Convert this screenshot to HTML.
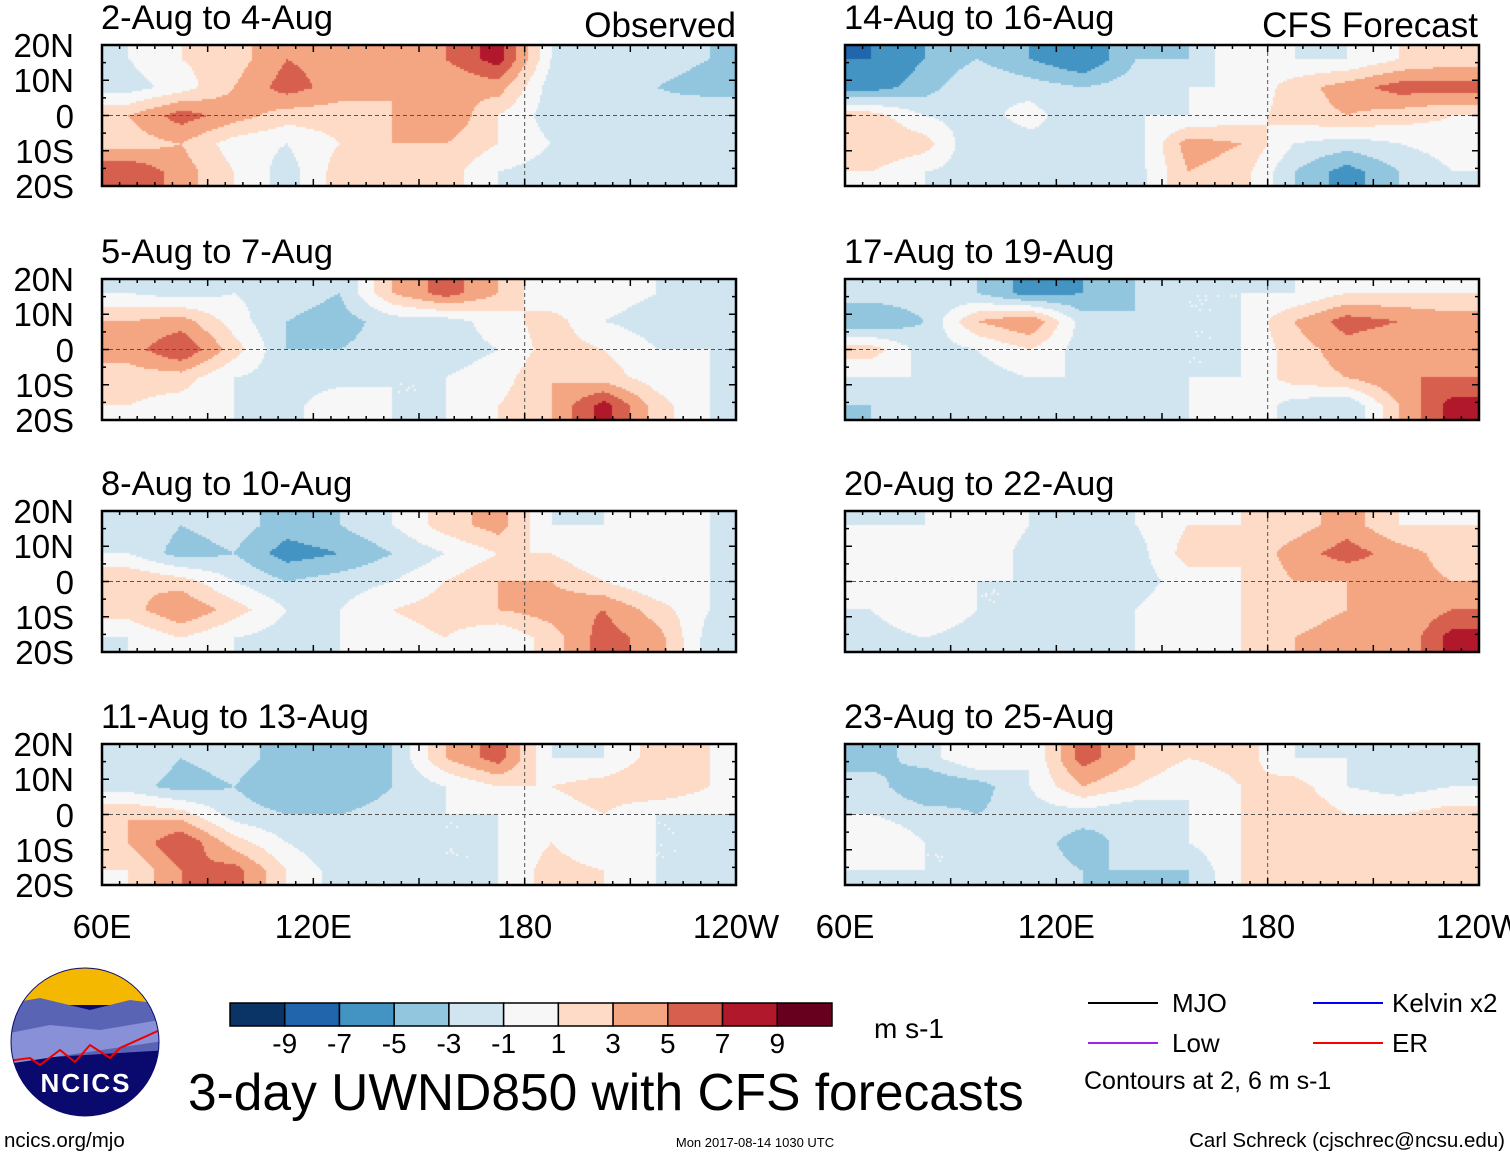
<!DOCTYPE html>
<html><head><meta charset="utf-8">
<style>
body{margin:0;width:1510px;height:1158px;background:#fff;position:relative;overflow:hidden;font-family:"Liberation Sans",sans-serif;color:#000}
.t{position:absolute;white-space:nowrap;line-height:1}
canvas{position:absolute}
</style></head><body>
<svg id="ov" width="1510" height="1158" style="position:absolute;left:0;top:0;z-index:2"></svg>
<div id="txt"></div>
<script>
// ---- data: 3-day mean 850hPa zonal wind anomaly (m/s), rows 20N->20S, cols 60E->120W ----
const panelTitles=["2-Aug to 4-Aug","5-Aug to 7-Aug","8-Aug to 10-Aug","11-Aug to 13-Aug","14-Aug to 16-Aug","17-Aug to 19-Aug","20-Aug to 22-Aug","23-Aug to 25-Aug"];
const p1=[[-1,1,2,5,4,3,5,8,-1,-2,-2,-3],[-2,0,3,6,4,3,3,4,-2,-2,-3,-4],[3,6,4,2,2,3,5,1,-2,-3,-2,-1],[2,3,0,-1,1,3,3,1,-1,-2,-1,-2],[7,4,1,-2,2,3,2,-1,-2,-3,-2,-1]];
const p2=[[-1,-2,-1,-2,-3,3,6,3,-1,0,-1,-2],[3,4,0,-3,-4,-2,-2,0,2,-1,-2,-1],[4,7,2,-3,-3,-2,-2,-1,2,1,-1,-1],[2,2,-1,-2,-2,-1,-1,0,3,2,0,-1],[1,0,-1,-2,1,-1,-1,1,3,8,2,-1]];
const p3=[[-1,-3,-2,-4,-3,-1,2,4,-1,-1,1,-1],[-1,-4,-3,-6,-5,-3,-1,1,1,-1,0,-1],[3,2,-1,-3,-2,-1,1,3,3,1,-1,-1],[2,5,2,-1,-1,1,2,3,4,5,2,-1],[-1,1,-1,-2,-1,0,1,-1,2,6,4,-2]];
const p4=[[-1,-3,-2,-4,-5,-3,3,6,-1,-1,2,1],[-2,-4,-3,-5,-5,-3,-1,1,1,2,3,1],[3,2,-2,-3,-3,-2,-1,-1,0,1,-1,-1],[3,7,2,-1,-3,-2,-1,-1,1,-1,-1,-1],[1,5,6,1,-2,-2,-1,-1,2,1,-1,-1]];
const p5=[[-7,-5,-3,-5,-7,-3,-3,1,-1,-1,1,2],[-6,-4,-1,-2,-3,-2,-1,-1,2,4,6,6],[2,-1,-2,0,-3,-1,-1,0,2,3,2,1],[3,2,-3,-2,-1,-2,4,3,-1,-2,-1,0],[1,-1,-2,-1,-2,-2,3,2,-3,-6,-3,-1]];
const p6=[[-2,-2,-3,-6,-5,-3,-1,-1,-1,1,1,1],[-5,-3,3,5,-2,-3,-1,-1,3,6,5,4],[2,-2,-1,1,-2,-2,-1,-1,2,4,3,3],[-1,-1,-2,-1,-1,-2,-1,-1,2,3,5,5],[-3,-2,-2,-3,-1,-2,-1,1,-2,-3,3,8]];
const p7=[[-1,-1,1,-1,-1,-1,1,1,2,4,1,1],[1,-1,1,-2,-2,-2,2,1,4,6,4,2],[1,1,-1,-1,-2,-2,0,1,3,3,4,3],[-1,1,-1,-1,-2,-1,1,1,2,3,3,5],[-2,-1,-2,-2,-2,-1,1,1,3,4,3,8]];
const p8=[[-4,-2,1,-1,6,3,1,2,-1,-1,-1,-2],[-2,-5,-4,-1,3,1,-1,1,2,-1,-2,-1],[-1,-2,-3,-2,-2,-3,-1,1,3,1,1,2],[1,-1,-1,-2,-4,-2,-1,1,3,2,2,3],[-1,-1,-1,-2,-3,-3,-3,1,3,1,2,3]];
const panels=[p1,p2,p3,p4,p5,p6,p7,p8];
const levels=[-9,-7,-5,-3,-1,1,3,5,7,9];
const colorbarLabels=["-9","-7","-5","-3","-1","1","3","5","7","9"];
const latLabels=["20N","10N","0","10S","20S"];
const lonLabels=["60E","120E","180","120W"];
const colors=["#0a3366","#2166ac","#4393c3","#92c5de","#d1e5f0","#f7f7f7","#fddbc7","#f4a582","#d6604d","#b2182b","#67001f"];

const NS="http://www.w3.org/2000/svg";
const ov=document.getElementById('ov');
const txt=document.getElementById('txt');
function binColor(v){let i=0;while(i<levels.length&&v>levels[i])i++;return colors[i];}
function sv(tag,a,parent){const e=document.createElementNS(NS,tag);for(const k in a)e.setAttribute(k,a[k]);(parent||ov).appendChild(e);return e;}
function label(s,x,y,size,anchor){const d=document.createElement('div');d.className='t';d.textContent=s;d.style.fontSize=size+'px';d.style.top=y+'px';
 if(anchor==='r'){d.style.right=(1510-x)+'px';}else if(anchor==='c'){d.style.left=x+'px';d.style.transform='translateX(-50%)';}else d.style.left=x+'px';
 txt.appendChild(d);return d;}

const PX=[102,845],PW=634,PY=[45,279,511,744],PH=141;
panels.forEach((grid,pi)=>{
 const col=pi<4?0:1,row=pi%4;const x0=PX[col],y0=PY[row];
 const rows=grid.length,cols=grid[0].length;
 const cv=document.createElement('canvas');cv.width=PW;cv.height=PH;cv.style.left=x0+'px';cv.style.top=y0+'px';
 
 
 document.body.appendChild(cv);const c=cv.getContext('2d');
 const s=2;
 for(let py=0;py<PH;py+=s)for(let px=0;px<PW;px+=s){
  let gx=(px+1)/PW*cols-0.5,gy=(py+1)/PH*rows-0.5;gx=Math.max(0,Math.min(cols-1,gx));gy=Math.max(0,Math.min(rows-1,gy));
  const ix=Math.min(cols-2,Math.floor(gx)),iy=Math.min(rows-2,Math.floor(gy)),fx=gx-ix,fy=gy-iy;
  const v=grid[iy][ix]*(1-fx)*(1-fy)+grid[iy][ix+1]*fx*(1-fy)+grid[iy+1][ix]*(1-fx)*fy+grid[iy+1][ix+1]*fx*fy;
  c.fillStyle=binColor(v);c.fillRect(px,py,s,s);
 }
 const g=sv('g',{});
 sv('line',{x1:x0,y1:y0+PH/2,x2:x0+PW,y2:y0+PH/2,stroke:'#555','stroke-width':1,'stroke-dasharray':'4,3'},g);
 sv('line',{x1:x0+PW*2/3,y1:y0,x2:x0+PW*2/3,y2:y0+PH,stroke:'#555','stroke-width':1,'stroke-dasharray':'4,3'},g);
 for(let k=0;k<=36;k++){const tx=x0+PW*k/36,len=k%6===0?7:4;
  sv('line',{x1:tx,y1:y0,x2:tx,y2:y0+len,stroke:'#000','stroke-width':1.5},g);
  sv('line',{x1:tx,y1:y0+PH,x2:tx,y2:y0+PH-len,stroke:'#000','stroke-width':1.5},g);}
 for(let k=0;k<=8;k++){const ty=y0+PH*k/8,len=k%2===0?7:4;
  sv('line',{x1:x0,y1:ty,x2:x0+len,y2:ty,stroke:'#000','stroke-width':1.5},g);
  sv('line',{x1:x0+PW,y1:ty,x2:x0+PW-len,y2:ty,stroke:'#000','stroke-width':1.5},g);}
 sv('rect',{x:x0,y:y0,width:PW,height:PH,fill:'none',stroke:'#000','stroke-width':2.5},g);
 const tl=label(panelTitles[pi],x0-1,y0-44,34.5);
 if(col===0){latLabels.forEach((l,k)=>{const d=label(l,74,y0+PH*k/4-16,33,'r');});}
});
let d;
d=label("Observed",736,8,35,'r');
d=label("CFS Forecast",1478,8,35,'r');
[0,1].forEach(col=>{lonLabels.forEach((l,k)=>{d=label(l,PX[col]+PW*k/3,910,33,'c');});});
const cbx=230,cby=1003,cbw=602/11,cbh=23;
colors.forEach((c,i)=>{const r=sv('rect',{x:cbx+i*cbw,y:cby,width:cbw,height:cbh,fill:c,stroke:'#000','stroke-width':1.5});
 });
colorbarLabels.forEach((l,i)=>{d=label(l,cbx+(i+1)*cbw,1030,28,'c');});
d=label("m s-1",874,1015,28);
d=label("3-day UWND850 with CFS forecasts",188,1067,51.5);
[[1088,1003,'#000','MJO',1172],[1313,1003,'#0000ff','Kelvin x2',1392],[1088,1043,'#a020f0','Low',1172],[1313,1043,'#ff0000','ER',1392]].forEach(a=>{
 const l=sv('line',{x1:a[0],y1:a[1],x2:a[0]+70,y2:a[1],stroke:a[2],'stroke-width':2});
 d=label(a[3],a[4],a[1]-13,26);});
d=label("Contours at 2, 6 m s-1",1084,1069,25);
d=label("ncics.org/mjo",4,1131,20.5);
d=label("Mon 2017-08-14 1030 UTC",755,1136,13,'c');
d=label("Carl Schreck (cjschrec@ncsu.edu)",1505,1131,20.5,'r');
const lg=sv('g',{});
sv('clipPath',{id:'lc'},lg);sv('circle',{cx:85,cy:1042,r:74},lg.lastChild);
const lgi=sv('g',{'clip-path':'url(#lc)'},lg);
sv('rect',{x:0,y:960,width:170,height:200,fill:'#0a0a6e'},lgi);
sv('rect',{x:0,y:960,width:170,height:45,fill:'#f5b800'},lgi);
sv('path',{d:'M0 1005 L40 998 L90 1010 L130 1000 L170 1005 L170 1050 L0 1060Z',fill:'#5a64b4'},lgi);
sv('path',{d:'M0 1035 L50 1025 L100 1030 L160 1020 L170 1040 L0 1065Z',fill:'#8890d8'},lgi);
sv('path',{d:'M0 1062 L30 1058 L40 1065 L60 1050 L75 1062 L90 1045 L110 1058 L120 1048 L160 1030 L170 1028',fill:'none',stroke:'#e00','stroke-width':2},lgi);
sv('circle',{cx:85,cy:1042,r:74,fill:'none',stroke:'#0a0a6e','stroke-width':1},lg);
const lt=sv('text',{x:86,y:1092,'text-anchor':'middle','font-size':26,'font-weight':'bold',fill:'#fff','font-family':'Liberation Sans, sans-serif','letter-spacing':2},lg);lt.textContent='NCICS';
</script>
</body></html>
